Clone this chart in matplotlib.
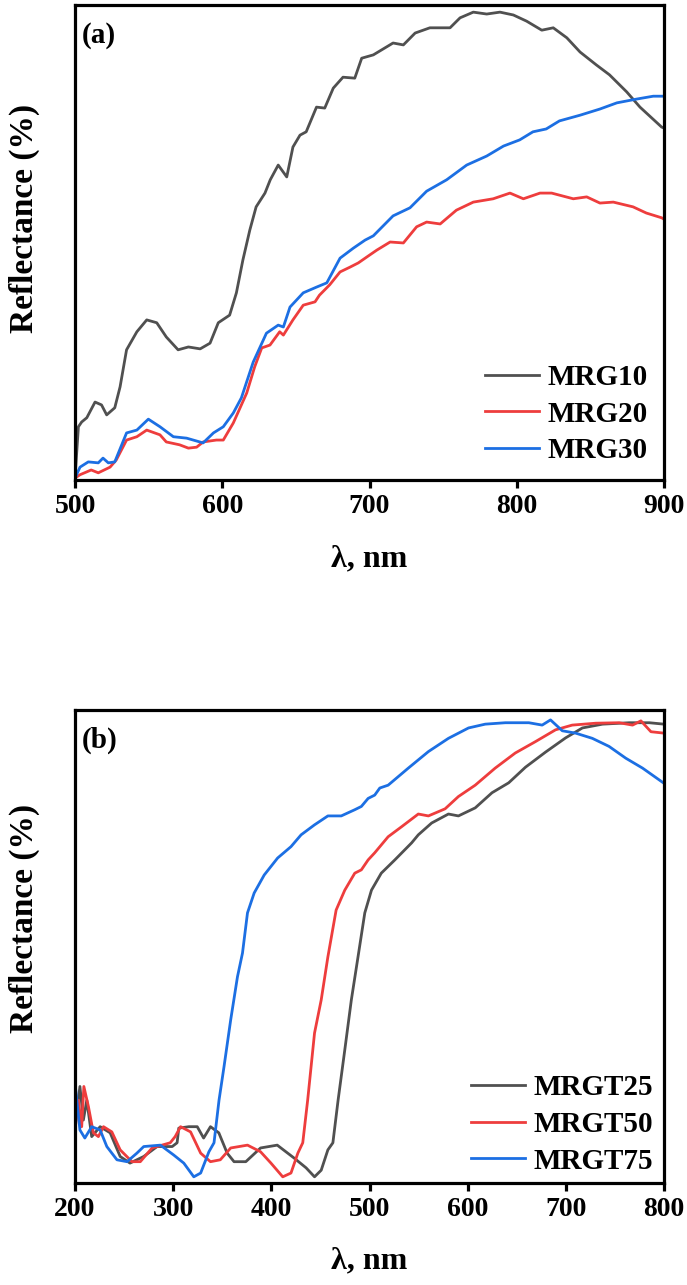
import matplotlib
matplotlib.use("Agg")
import matplotlib.pyplot as plt

# ---- panel (a): MRG series, 500-900 nm ----
wl_mrg10 = [500, 502.3, 504.5, 508, 513.6, 518, 521.5, 527, 530.6, 535, 542, 548.7, 555.5, 562,
            570, 577, 585, 591.7, 597.3, 605, 609.6, 614, 618.7, 623, 629, 632.6, 638, 643.8,
            648, 652.8, 657, 664, 669.6, 675.4, 682, 690, 694.7, 702.6, 716, 723, 731, 741,
            754.7, 761.5, 770.5, 779.6, 788.6, 797.7, 806.7, 817, 824.8, 834, 843, 854, 863,
            874.7, 883.7, 898.4, 900]
r_mrg10 = [0.4, 11.2, 12.2, 13.1, 16.4, 15.8, 13.7, 15.2, 19.6, 27.4, 31.2, 33.7, 33.1, 30.1,
           27.4, 28.0, 27.6, 28.8, 33.1, 34.7, 39.4, 46.3, 52.6, 57.5, 60.4, 63.2, 66.3, 63.8,
           70.1, 72.6, 73.3, 78.5, 78.3, 82.5, 84.8, 84.6, 88.8, 89.5, 92.0, 91.6, 94.1, 95.2,
           95.2, 97.3, 98.5, 98.1, 98.5, 97.9, 96.6, 94.7, 95.2, 93.1, 90.1, 87.4, 85.3,
           81.7, 78.5, 74.3, 74.1]

wl_mrg20 = [500, 503.4, 511, 515.8, 523.8, 528, 535, 542, 548.7, 557.7, 562, 571, 577, 582.6,
            587, 596, 600.7, 607.5, 616.6, 622, 626.8, 632.4, 639, 641.5, 648, 655, 663, 666,
            673, 680, 686.7, 692.4, 700.3, 705, 714, 723, 732, 738.8, 748, 759, 770.5, 784,
            795.4, 804.5, 815.8, 823.7, 838.4, 847.5, 856.5, 865.6, 879, 888, 898.4, 900]
r_mrg20 = [0.4, 1.1, 2.1, 1.5, 2.7, 4.2, 8.4, 9.1, 10.5, 9.5, 8.0, 7.4, 6.7, 6.9,
           8.0, 8.4, 8.4, 12.0, 18.3, 23.8, 27.8, 28.4, 31.2, 30.5, 33.7, 36.8, 37.5, 38.9,
           41.1, 43.8, 44.8, 45.7, 47.4, 48.4, 50.1, 49.9, 53.3, 54.3, 53.9, 56.8, 58.5, 59.2,
           60.4, 59.2, 60.4, 60.4, 59.2, 59.6, 58.3, 58.5, 57.5, 56.2, 55.2, 54.9]

wl_mrg30 = [500, 503.4, 509, 515.8, 519, 522.6, 527, 535, 542, 549.8, 557.7, 566.8, 575.8, 587,
            594, 600.7, 607.5, 613, 621, 630, 638, 641.5, 646, 655, 664, 671, 680, 689, 697,
            702.6, 716, 727.5, 738.8, 752.4, 766, 779.6, 791, 802, 811, 820, 829, 843, 856.5,
            868, 881.5, 892.7, 900]
r_mrg30 = [0.4, 2.7, 3.8, 3.6, 4.6, 3.6, 3.8, 9.9, 10.5, 12.8, 11.2, 9.1, 8.8, 7.8,
           9.9, 11.2, 14.1, 17.3, 24.8, 30.9, 32.6, 32.2, 36.4, 39.4, 40.6, 41.5, 46.7, 48.8, 50.5,
           51.4, 55.6, 57.3, 60.8, 63.2, 66.3, 68.2, 70.3, 71.6, 73.3, 73.9, 75.6, 76.8, 78.1,
           79.4, 80.2, 80.8, 80.8]

# ---- panel (b): MRGT series, 200-800 nm ----
wl_t25 = [200, 205, 208.5, 212, 217, 225.6, 235.8, 246, 256, 270, 283.6, 299, 304, 305.7, 316,
          324.5, 331, 338, 346.5, 355, 362, 374, 389, 406, 423, 435.4, 444, 450.8, 457.6, 462.7,
          468, 474.8, 481.5, 488.3, 495.2, 502, 512, 525.8, 542.9, 549.7, 563.3, 580.4, 590.6,
          607.7, 624.8, 641.8, 658.9, 679.4, 699.8, 716.9, 737.4, 764.7, 785, 800]
r_t25 = [11.9, 20.4, 13.3, 17.5, 9.8, 11.9, 10.6, 5.6, 4.2, 5.6, 7.7, 7.7, 8.5, 11.6, 11.9,
         11.9, 9.5, 11.9, 10.6, 6.3, 4.5, 4.5, 7.4, 8.0, 5.3, 3.2, 1.3, 2.7, 7.0, 8.5,
         17.5, 28.1, 38.7, 47.8, 57.1, 61.9, 65.5, 68.3, 71.9, 73.6, 76.1, 78.0, 77.6,
         79.3, 82.5, 84.6, 87.9, 91.1, 94.1, 96.2, 97.0, 97.3, 97.3, 97.0]

wl_t50 = [200, 203.4, 206.8, 209, 213.6, 218.7, 223.8, 229, 237.5, 246, 258, 266.5, 278.5, 297,
          302, 307.5, 317.7, 328, 338, 348, 358.6, 375.7, 389, 399.6, 411.6, 420, 427, 432, 437,
          444, 450.8, 457.6, 466, 474.8, 485, 491.7, 498.6, 505.3, 519, 532.6, 549.7, 560, 577,
          590.6, 607.7, 628, 648.5, 669, 689.5, 706.5, 730.4, 754.3, 768, 776.5, 786.7, 800]
r_t50 = [11.2, 17.5, 11.9, 20.4, 16.2, 10.6, 9.8, 11.9, 10.8, 7.0, 4.5, 4.5, 7.4, 8.5,
         9.8, 11.9, 10.8, 6.3, 4.5, 4.9, 7.4, 8.0, 6.6, 4.2, 1.3, 2.1, 6.3, 8.5, 17.5,
         31.7, 38.7, 47.8, 57.7, 61.9, 65.5, 66.2, 68.3, 69.8, 73.2, 75.3, 78.0, 77.6, 79.1,
         81.7, 84.1, 87.7, 90.9, 93.3, 95.8, 96.8, 97.2, 97.3, 96.8, 97.7, 95.4, 95.1]

wl_t75 = [200, 205, 210, 217, 225.6, 232.4, 242.7, 253, 263, 270, 287, 300.6, 310.8, 321, 328,
          336.4, 341.6, 346.7, 351.8, 358.6, 365.5, 370.6, 375.7, 382.5, 392.7, 406.4, 420,
          430.3, 443.9, 457.6, 471.2, 484.9, 491.7, 498.6, 505.3, 510.5, 519, 539.5, 560, 580.4,
          600.9, 617.9, 638.4, 662.3, 675.9, 684.4, 696.4, 710, 727, 744, 761.1, 778.2, 800]
r_t75 = [21.1, 11.2, 9.5, 11.9, 11.2, 7.7, 4.9, 4.5, 6.3, 7.7, 8.0, 5.9, 4.2, 1.3, 2.1,
         6.6, 8.5, 17.5, 24.6, 34.5, 43.6, 48.6, 57.1, 61.3, 65.1, 68.7, 71.1,
         73.6, 75.7, 77.6, 77.6, 78.9, 79.6, 81.3, 82.0, 83.5, 84.1, 87.7, 91.2, 94.0,
         96.2, 97.0, 97.3, 97.3, 96.8, 97.9, 95.6, 95.1, 94.0, 92.3, 89.8, 87.7, 84.5]

c_gray = '#505050'
c_red = '#ee3d3d'
c_blue = '#1c6fe3'

plt.rcParams['font.family'] = ['Liberation Serif', 'DejaVu Serif']
plt.rcParams['font.weight'] = 'bold'

fig = plt.figure(figsize=(6.87, 12.85), dpi=100)
ax1 = fig.add_axes([0.1092, 0.6265, 0.8573, 0.3696])
ax2 = fig.add_axes([0.1092, 0.0794, 0.8573, 0.3681])


def style_axes(ax, xlim, xticks, label, ylab_y):
    ax.set_xlim(*xlim)
    ax.set_ylim(0, 100)
    ax.set_xticks(xticks)
    ax.set_yticks([])
    for s in ax.spines.values():
        s.set_linewidth(2.3)
    ax.tick_params(axis='x', direction='out', length=6, width=2.3, labelsize=20, pad=4)
    for t in ax.get_xticklabels():
        t.set_fontweight('bold')
    ax.set_xlabel('λ, nm', fontsize=23, fontweight='bold')
    ax.xaxis.set_label_coords(0.5, -0.135)
    ax.set_ylabel('Reflectance (%)', fontsize=24, fontweight='bold')
    ax.yaxis.set_label_coords(-0.06, ylab_y)
    ax.text(0.012, 0.965, label, transform=ax.transAxes, fontsize=21,
            fontweight='bold', va='top', ha='left')


lw = 2.0
ax1.plot(wl_mrg10, r_mrg10, color=c_gray, lw=lw, label='MRG10')
ax1.plot(wl_mrg20, r_mrg20, color=c_red, lw=lw, label='MRG20')
ax1.plot(wl_mrg30, r_mrg30, color=c_blue, lw=lw, label='MRG30')
style_axes(ax1, (500, 900), [500, 600, 700, 800, 900], '(a)', 0.55)
ax1.legend(loc='lower right', bbox_to_anchor=(1.017, -0.022), frameon=False,
           prop={'size': 21, 'weight': 'bold'}, handlelength=1.85,
           handletextpad=0.3, labelspacing=0.33)

ax2.plot(wl_t25, r_t25, color=c_gray, lw=lw, label='MRGT25')
ax2.plot(wl_t50, r_t50, color=c_red, lw=lw, label='MRGT50')
ax2.plot(wl_t75, r_t75, color=c_blue, lw=lw, label='MRGT75')
style_axes(ax2, (200, 800), [200, 300, 400, 500, 600, 700, 800], '(b)', 0.56)
ax2.legend(loc='lower right', bbox_to_anchor=(1.026, -0.038), frameon=False,
           prop={'size': 21, 'weight': 'bold'}, handlelength=1.85,
           handletextpad=0.3, labelspacing=0.33)

fig.savefig('out.png', dpi=100)
